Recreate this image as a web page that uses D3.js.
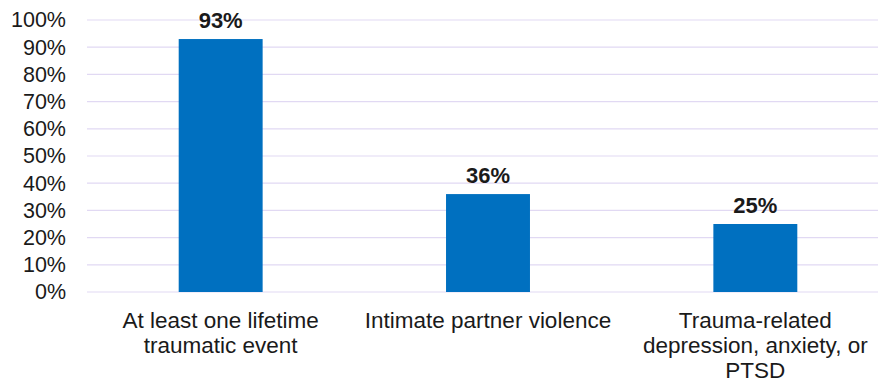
<!DOCTYPE html>
<html>
<head>
<meta charset="utf-8">
<script src="https://cdn.jsdelivr.net/npm/d3@7"></script>
<style>
  body { margin: 0; background: #fff; }
  svg { display: block; font-family: "Liberation Sans", Arial, sans-serif; }
</style>
</head>
<body>
<svg id="chart" width="878" height="383"></svg>
<script>
// data
const categories = [
  ["At least one lifetime", "traumatic event"],
  ["Intimate partner violence"],
  ["Trauma-related", "depression, anxiety, or", "PTSD"]
];
const values = [93, 36, 25];
const yTicks = [0, 10, 20, 30, 40, 50, 60, 70, 80, 90, 100];

const svg = d3.select("#chart");
const margin = {left: 87, top: 20, bottom: 91};
const plotRight = 889;
const height = 383;

const x = d3.scaleBand()
  .domain(d3.range(values.length))
  .range([margin.left, plotRight])
  .paddingInner(0.686)
  .paddingOuter(0.343);

const y = d3.scaleLinear()
  .domain([0, 100])
  .range([height - margin.bottom, margin.top]);

// gridlines
svg.append("g")
  .selectAll("line")
  .data(yTicks)
  .join("line")
  .attr("x1", margin.left)
  .attr("x2", 878)
  .attr("y1", d => y(d))
  .attr("y2", d => y(d))
  .attr("stroke", "#e1d9f3")
  .attr("stroke-width", 1.2);

// y axis labels
const yAxis = d3.axisLeft(y)
  .tickValues(yTicks)
  .tickFormat(d => d + "%")
  .tickSize(0)
  .tickPadding(0);

svg.append("g")
  .attr("transform", `translate(66,0)`)
  .call(yAxis)
  .call(g => g.select(".domain").remove())
  .selectAll("text")
  .attr("font-size", 21.5)
  .attr("font-family", "Liberation Sans, Arial, sans-serif")
  .attr("fill", "#1a1a1a");

// bars
svg.append("g")
  .selectAll("rect")
  .data(values)
  .join("rect")
  .attr("x", (d, i) => x(i))
  .attr("y", d => y(d))
  .attr("width", x.bandwidth())
  .attr("height", d => y(0) - y(d))
  .attr("fill", "#0070c0");

// value labels
svg.append("g")
  .selectAll("text")
  .data(values)
  .join("text")
  .attr("x", (d, i) => x(i) + x.bandwidth() / 2)
  .attr("y", d => y(d) - 11)
  .attr("text-anchor", "middle")
  .attr("font-size", 22)
  .attr("font-weight", "bold")
  .attr("fill", "#1a1a1a")
  .text(d => d + "%");

// category labels
const cat = svg.append("g")
  .selectAll("text")
  .data(categories)
  .join("text")
  .attr("x", (d, i) => x(i) + x.bandwidth() / 2)
  .attr("y", 328)
  .attr("text-anchor", "middle")
  .attr("font-size", 22.5)
  .attr("fill", "#1a1a1a");

cat.selectAll("tspan")
  .data((d, i) => d.map(t => ({t, i})))
  .join("tspan")
  .attr("x", d => x(d.i) + x.bandwidth() / 2)
  .attr("dy", (d, j) => j === 0 ? 0 : 25)
  .text(d => d.t);
</script>
</body>
</html>
